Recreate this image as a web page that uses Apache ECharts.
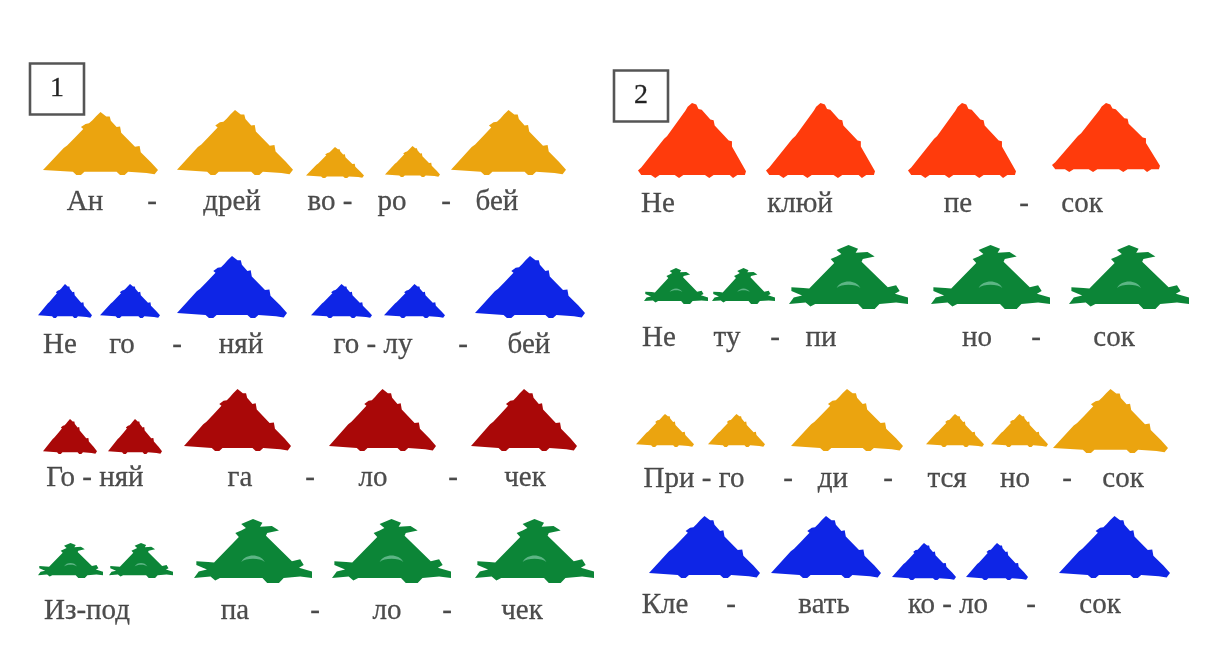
<!DOCTYPE html>
<html><head><meta charset="utf-8">
<style>html,body{margin:0;padding:0;background:#fff}#c{width:1207px;height:652px;filter:blur(0.7px)}</style>
<script src="https://cdn.jsdelivr.net/npm/echarts@6/dist/echarts.min.js"></script>
</head><body><div id="c"></div>
<script>
// Each triangle: left, right, top, bottom
const orangeTriangles = [[43,158,112,175],[177,293,110,175],[306,364,147,178],[385,440,146,177],[451,566,110,175],
  [636,694,414,447],[708,765,414,447],[791,903,389,451],[926,984,414,447],[991,1048,414,447],[1053,1168,389,453]];
const blueTriangles = [[38,92,284,318],[100,160,284,318],[177,287,256,318],[311,372,284,318],[384,445,284,318],[475,585,256,318],
  [649,760,516,578],[771,881,516,578],[892,956,543,580],[966,1028,543,580],[1059,1170,516,578]];
const darkRedTriangles = [[43,97,419,454],[108,162,419,454],[184,291,389,451],[329,436,389,451],[471,577,389,451]];
const redTriangles = [[638,746,103,178],[766,875,103,178],[908,1016,103,178],[1052,1160,103,172]];
const greenTriangles = [[38,103,543,578],[109,173,543,578],[194,312,519,583],[332,451,519,583],[475,594,519,583],
  [644,708,268,304],[712,775,268,304],[789,908,245,309],[931,1050,245,309],[1069,1189,245,309]];

// Syllables: text, centre x, row
const syllables = [
 ['Ан',85,202],['-',152,202],['дрей',232,202],['во -',330,202],['ро',392,202],['-',446,202],['бей',497,202],
 ['Не',60,345],['го',122,345],['-',177,345],['няй',241,345],['го - лу',373,345],['-',463,345],['бей',529,345],
 ['Го - няй',95,478],['га',240,478],['-',310,478],['ло',373,478],['-',453,478],['чек',525,478],
 ['Из-под',87,611],['па',235,611],['-',315,611],['ло',387,611],['-',447,611],['чек',522,611],
 ['Не',658,204],['клюй',800,204],['пе',958,204],['-',1024,204],['сок',1082,204],
 ['Не',659,338],['ту',727,338],['-',775,338],['пи',821,338],['но',977,338],['-',1036,338],['сок',1114,338],
 ['При - го',694,479],['-',788,479],['ди',833,479],['-',888,479],['тся',947,479],['но',1015,479],['-',1067,479],['сок',1123,479],
 ['Кле',665,605],['-',731,605],['вать',824,605],['ко - ло',948,605],['-',1031,605],['сок',1100,605]
];
const panels = [['1',57,89],['2',641,96]];

// Symbol outlines in a 0-100 box: straight-sided triangles with small nubs
const roughPath = 'path://M50,0 L55,7 L58,7 L59,14 L64,24 L67,23 L68,33 L80,55 L84,54 L85,64 L94,80 L100,92 L97,99 L90,97 L74,95 L71,100 L67,100 L64,95 L36,95 L33,100 L29,100 L26,95 L0,92 L18,57 L21,53 L27,42 L35,27 L33,24 L37,19 L40,18 L43,13 L46,7 Z';
const finePath = 'path://M50,0 L54,2 L56,8 L59,9 L67,22 L70,23 L71,30 L84,50 L87,51 L87,58 L100,91 L99,96 L92,96 L88,100 L85,96 L70,96 L66,100 L62,96 L42,96 L38,100 L34,96 L20,96 L16,100 L12,96 L3,96 L0,90 L3,86 L24,48 L27,44 L44,10 L46,5 Z';
const leafPath = 'path://M50,0 L58,6 L56,12 L66,11 L72,18 L62,22 L61,26 L83,66 L90,63 L93,72 L89,76 L100,82 L100,92 L90,90 L76,92 L72,100 L62,100 L58,92 L22,92 L18,96 L14,90 L0,92 L4,82 L11,79 L2,72 L2,66 L12,67 L17,68 L38,28 L35,22 L40,18 L44,14 L40,8 Z';
const arcPath = 'path://M0,100 C20,0 80,0 100,100 C80,50 20,50 0,100 Z';

function triangleSeries(rows, colour, symbol) {
  return {
    type: 'scatter', silent: true, symbol,
    data: rows.map(r => ({ value: [(r[0]+r[1])/2, (r[2]+r[3])/2], symbolSize: [r[1]-r[0], r[3]-r[2]] })),
    itemStyle: { color: colour, opacity: 1 }, z: 2
  };
}
const chart = echarts.init(document.getElementById('c'), null, { renderer: 'canvas' });
chart.setOption({
  animation: false,
  backgroundColor: '#fff',
  grid: { left: 0, right: 0, top: 0, bottom: 0 },
  xAxis: { type: 'value', min: 0, max: 1207, show: false },
  yAxis: { type: 'value', min: 0, max: 652, inverse: true, show: false },
  series: [
    triangleSeries(orangeTriangles, '#EBA40F', roughPath),
    triangleSeries(blueTriangles, '#0E25E6', roughPath),
    triangleSeries(darkRedTriangles, '#A90808', roughPath),
    triangleSeries(redTriangles, '#FF3B0C', finePath),
    triangleSeries(greenTriangles, '#0C8537', leafPath),
    { type: 'scatter', silent: true, symbol: arcPath, z: 3,
      data: greenTriangles.map(r => ({ value: [(r[0]+r[1])/2, r[2]+(r[3]-r[2])*0.62], symbolSize: [(r[1]-r[0])*0.2, (r[3]-r[2])*0.1] })),
      itemStyle: { color: '#5DB585', opacity: 1 } },
    { type: 'scatter', silent: true, symbol: 'rect', symbolSize: [54, 51], z: 4,
      data: panels.map(p => ({ value: [p[1], p[2]], name: p[0] })),
      itemStyle: { color: '#fff', borderColor: '#555', borderWidth: 2.5, opacity: 1 },
      label: { show: true, position: 'inside', formatter: d => d.name, color: '#222',
               fontFamily: 'Liberation Serif', fontSize: 28, textBorderColor: '#333', textBorderWidth: 0.3 } },
    { type: 'scatter', silent: true, symbolSize: 1, z: 4,
      data: syllables.map(s => ({ value: [s[1], s[2]], name: s[0] })),
      itemStyle: { color: 'rgba(0,0,0,0)' },
      label: { show: true, position: 'inside', formatter: d => d.name, color: '#222',
               fontFamily: 'Liberation Serif', fontSize: 29, textBorderColor: '#333', textBorderWidth: 0.3 } }
  ]
});
</script></body></html>
